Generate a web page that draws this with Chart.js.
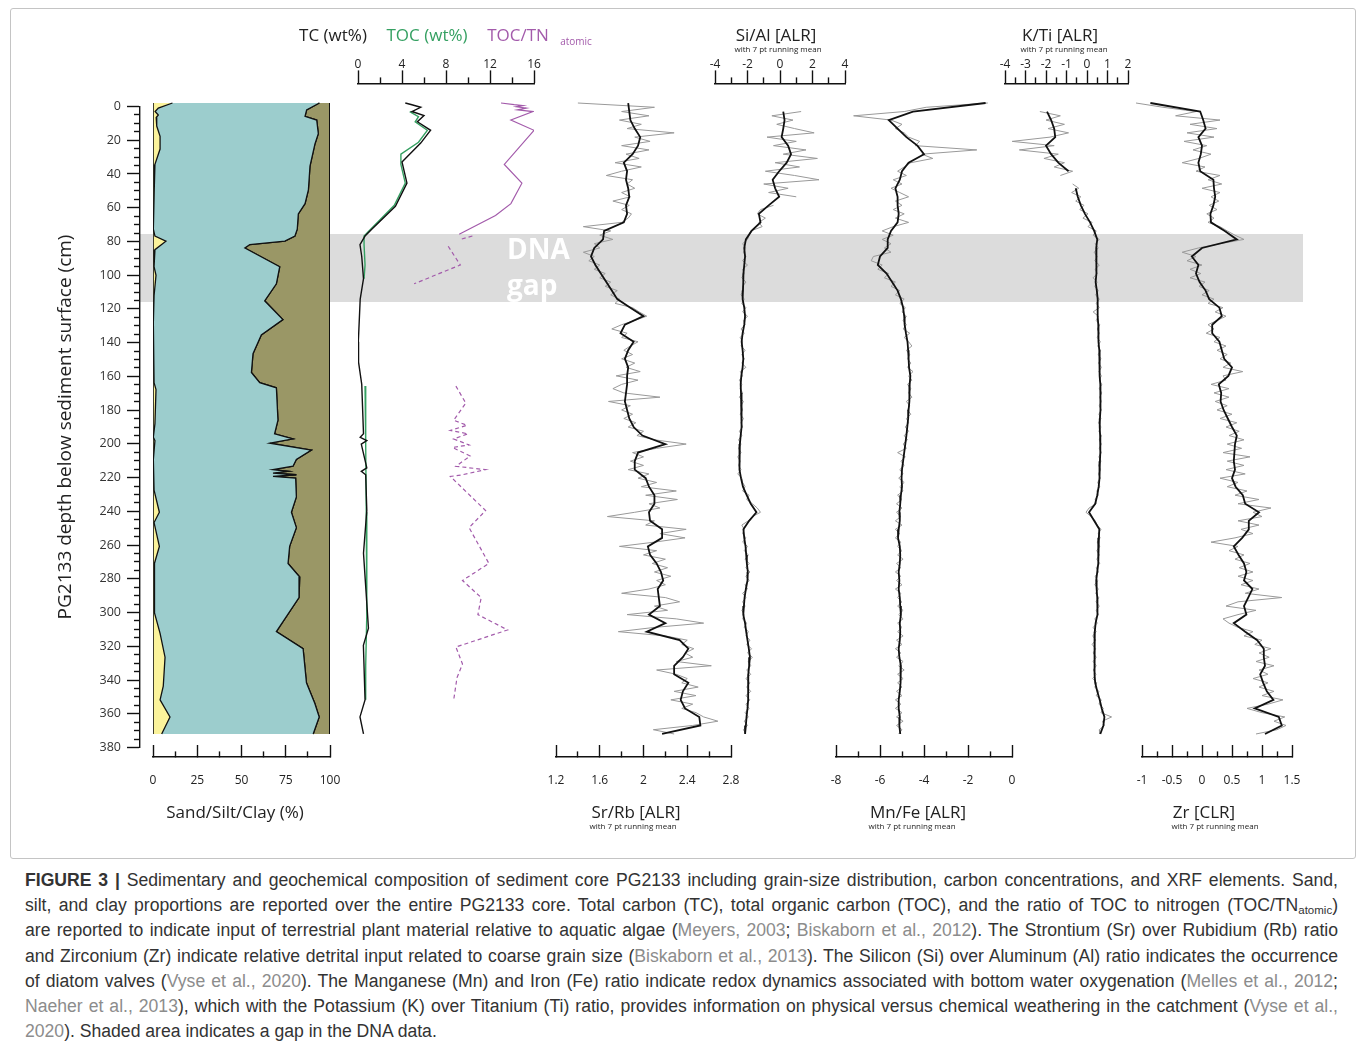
<!DOCTYPE html>
<html>
<head>
<meta charset="utf-8">
<script src="https://cdn.jsdelivr.net/npm/chart.js@4.4.1/dist/chart.umd.min.js"></script>
<style>
  body { margin: 0; background: #fff; width: 1358px; height: 1049px; position: relative; overflow: hidden; font-family: "Open Sans", sans-serif; color: #222; }
  canvas { position: absolute; }
  .frame { position: absolute; left: 10px; top: 8px; width: 1344px; height: 849px; border: 1px solid #c4c4c4; border-radius: 3px; }
  .lbl { position: absolute; transform: translate(-50%, -50%); white-space: nowrap; line-height: 1; font-size: 17px; }
  .sub { font-size: 8px; }
  .gap { position: absolute; left: 507px; top: 230px; color: #fff; font-weight: bold; font-size: 28px; line-height: 36px; }
  .caption { position: absolute; left: 25px; top: 868px; width: 1313px; font-family: "Liberation Sans", Arial, sans-serif; font-size: 17.6px; line-height: 25.2px; color: #333; }
  .caption div { text-align: justify; text-align-last: justify; height: 25.2px; }
  .caption div.last { text-align-last: left; }
  .caption span.ref { color: #8c8c8c; }
  .caption sub { font-size: 11.5px; line-height: 0; vertical-align: -3px; }
</style>
</head>
<body>
<div class="frame"></div>
<canvas id="band"></canvas>
<div class="gap">DNA<br>gap</div>
<canvas id="depthAxis"></canvas>
<canvas id="grain"></canvas>
<canvas id="carbon"></canvas>
<canvas id="srrb"></canvas>
<canvas id="sial"></canvas>
<canvas id="mnfe"></canvas>
<canvas id="kti"></canvas>
<canvas id="zr"></canvas>

<div class="lbl" style="left:333px;top:34px">TC (wt%)</div>
<div class="lbl" style="left:427px;top:34px;color:#35a062">TOC (wt%)</div>
<div class="lbl" style="left:518px;top:34px;color:#a35bab">TOC/TN</div>
<div class="lbl" style="left:576px;top:41px;font-size:10px;color:#a35bab">atomic</div>
<div class="lbl" style="left:776px;top:34px">Si/Al [ALR]</div>
<div class="lbl sub" style="left:778px;top:49px">with 7 pt running mean</div>
<div class="lbl" style="left:1060px;top:34px">K/Ti [ALR]</div>
<div class="lbl sub" style="left:1064px;top:49px">with 7 pt running mean</div>
<div class="lbl" style="left:235px;top:811px">Sand/Silt/Clay (%)</div>
<div class="lbl" style="left:636px;top:811px">Sr/Rb [ALR]</div>
<div class="lbl sub" style="left:633px;top:826px">with 7 pt running mean</div>
<div class="lbl" style="left:918px;top:811px">Mn/Fe [ALR]</div>
<div class="lbl sub" style="left:912px;top:826px">with 7 pt running mean</div>
<div class="lbl" style="left:1204px;top:811px">Zr [CLR]</div>
<div class="lbl sub" style="left:1215px;top:826px">with 7 pt running mean</div>

<div class="caption" id="caption">
  <div><b>FIGURE 3 |</b> Sedimentary and geochemical composition of sediment core PG2133 including grain-size distribution, carbon concentrations, and XRF elements. Sand,</div>
  <div>silt, and clay proportions are reported over the entire PG2133 core. Total carbon (TC), total organic carbon (TOC), and the ratio of TOC to nitrogen (TOC/TN<sub>atomic</sub>)</div>
  <div>are reported to indicate input of terrestrial plant material relative to aquatic algae (<span class="ref">Meyers, 2003</span>; <span class="ref">Biskaborn et al., 2012</span>). The Strontium (Sr) over Rubidium (Rb) ratio</div>
  <div>and Zirconium (Zr) indicate relative detrital input related to coarse grain size (<span class="ref">Biskaborn et al., 2013</span>). The Silicon (Si) over Aluminum (Al) ratio indicates the occurrence</div>
  <div>of diatom valves (<span class="ref">Vyse et al., 2020</span>). The Manganese (Mn) and Iron (Fe) ratio indicate redox dynamics associated with bottom water oxygenation (<span class="ref">Melles et al., 2012</span>;</div>
  <div><span class="ref">Naeher et al., 2013</span>), which with the Potassium (K) over Titanium (Ti) ratio, provides information on physical versus chemical weathering in the catchment (<span class="ref">Vyse et al.,</span></div>
  <div class="last"><span class="ref">2020</span>). Shaded area indicates a gap in the DNA data.</div>
</div>

<script>
/* Sediment core PG2133 - grain size, carbon and XRF ratios against depth */

// DNA gap (cm)
const gapTop = 77;
const gapBase = 116.5;
const coreTop = 0;
const coreBase = 370;

// Grain size: cumulative sand and sand+silt (%) with their depths (cm)
const sandDepth = [0, 3, 5, 7, 8.5, 13.5, 19.5, 27, 36, 43, 51, 74, 78, 81, 86, 96, 101, 113, 129, 164, 168, 188, 196, 198, 209,
  227, 240, 246, 260, 270, 295, 299, 311, 325, 342, 350, 360, 370];
const sandPct = [11, 3, 1.2, 3, 1.8, 2.1, 4, 4, 1.1, 0.8, 0.6, 0.2, 1.1, 7.3, 1.1, 0.6, 1.7, 0.6, 0.2, 0.6, 1.7, 1.1, 0.2, 1.1, 0.2,
  0.6, 3.6, 0.6, 3.6, 0.8, 0.6, 1.1, 4, 6.8, 5.8, 4, 9.6, 4.9];
const siltDepth = [0, 4, 7.8, 10, 18, 24, 37, 51, 59, 65, 74, 78, 81, 83, 85, 96, 106, 116, 127, 136, 147, 158, 164, 167, 186,
  194, 197, 199.5, 203.5, 209, 213, 215, 216, 217, 218, 219, 220, 231, 240, 249, 260, 270, 278, 290, 310, 320, 340, 352, 360, 370];
const siltTop = [94, 86.8, 85.9, 92.5, 93.4, 91.5, 88.7, 87.8, 85.9, 82.1, 81.5, 80.2, 74.5, 54.7, 51.9, 71.6, 69.7, 63.1, 73.4, 61.2,
  56.5, 55.6, 60.3, 69.7, 70.6, 68.7, 79.1, 66, 89.5, 81, 79.1, 67.8, 76.3, 67.8, 81, 67.8, 80.6, 81, 78.2, 81, 77.2, 76.3, 82.9,
  82.5, 69.7, 84.8, 86.7, 91.4, 93.9, 90.5];

// Carbon
const tcDepth = [0, 1, 2.5, 5, 7.4, 11, 16, 23.5, 34.6, 47, 60.6, 74, 78, 83, 90, 103, 115, 140, 152, 165, 194, 196, 198, 200, 214,
  216, 218, 239, 264, 308, 318, 350, 360, 370];
const tcVal = [4.3, 4.9, 5.7, 4.9, 6.0, 5.4, 6.6, 5.7, 4.0, 4.45, 3.4, 1.25, 0.64, 0.18, 0.34, 0.5, 0.2, 0.03, 0.05, 0.34, 0.5, 0.2,
  0.8, 0.3, 0.8, 0.3, 0.7, 0.8, 0.5, 0.95, 0.49, 0.64, 0.18, 0.5];
const tocDepth = [5, 8, 11, 16, 23, 30, 36, 47, 60, 74, 78, 83, 95, 103, 130, 166, 200, 240, 300, 330, 350];
const tocVal = [4.7, 5.5, 5.2, 6.3, 5.5, 3.9, 3.9, 4.3, 3.3, 1.15, 0.55, 0.55, 0.64, 0.55, null, 0.64, 0.7, 0.75, 0.8, 0.7, 0.7];
const tocTnDepth = [0, 1, 1.5, 2.2, 3, 4, 5, 10, 16, 36, 47, 59, 66, 77];
const tocTnVal = [13.0, 14.2, 15.0, 14.4, 15.3, 14.5, 15.9, 13.9, 16.0, 13.3, 14.9, 13.9, 12.5, 9.2];
const tocTnGapDepth = [78, 80, 82, 84, 95, 106, 130, 166, 176, 186, 189, 192, 194, 197, 200.5, 202, 207, 213, 215, 218, 219, 239,
  249, 270, 280, 290, 300, 309, 319, 329, 337, 350];
const tocTnGapVal = [10.4, 9.3, null, 8.2, 9.3, 5.1, null, 8.9, 9.8, 8.7, 9.9, 8.4, 10.0, 8.7, 10.1, 8.6, 10.2, 8.9, 11.6, 9.5, 8.4,
  11.6, 10.1, 11.9, 9.5, 11.2, 10.9, 13.6, 8.9, 9.5, 9.0, 8.7];

// XRF depths (cm): raw scan values and 7 pt running mean
const depthRaw = [0, 2.5, 5, 7.5, 10, 12.5, 15, 17.5, 20, 22.5, 25, 27.5, 30, 32.5, 35, 37.5, 40, 42.5, 45, 47.5,
  50, 52.5, 55, 57.5, 60, 62.5, 65, 67.5, 70, 72.5, 75, 77.5, 80, 82.5, 85, 87.5, 90, 92.5, 95, 97.5,
  100, 102.5, 105, 107.5, 110, 112.5, 115, 117.5, 120, 122.5, 125, 127.5, 130, 132.5, 135, 137.5, 140, 142.5, 145, 147.5,
  150, 152.5, 155, 157.5, 160, 162.5, 165, 167.5, 170, 172.5, 175, 177.5, 180, 182.5, 185, 187.5, 190, 192.5, 195, 197.5,
  200, 202.5, 205, 207.5, 210, 212.5, 215, 217.5, 220, 222.5, 225, 227.5, 230, 232.5, 235, 237.5, 240, 242.5, 245, 247.5,
  250, 252.5, 255, 257.5, 260, 262.5, 265, 267.5, 270, 272.5, 275, 277.5, 280, 282.5, 285, 287.5, 290, 292.5, 295, 297.5,
  300, 302.5, 305, 307.5, 310, 312.5, 315, 317.5, 320, 322.5, 325, 327.5, 330, 332.5, 335, 337.5, 340, 342.5, 345, 347.5,
  350, 352.5, 355, 357.5, 360, 362.5, 365, 367.5, 370];
const depthMean = [0, 5, 10, 15, 20, 25, 30, 35, 40, 45, 50, 55, 60, 65, 70, 75, 80, 85, 90, 95,
  100, 105, 110, 115, 120, 125, 130, 135, 140, 145, 150, 155, 160, 165, 170, 175, 180, 185, 190, 195,
  200, 205, 210, 215, 220, 225, 230, 235, 240, 245, 250, 255, 260, 265, 270, 275, 280, 285, 290, 295,
  300, 305, 310, 315, 320, 325, 330, 335, 340, 345, 350, 355, 360, 365, 370];

const srRbRaw = [1.40, 2.10, 1.80, 2.05, 1.78, 1.98, 1.85, 2.28, 1.92, 2.06,
  1.80, 2.05, 1.84, 1.96, 1.74, 1.98, 1.80, 1.66, 1.90, 1.85,
  1.92, 1.80, 1.88, 1.72, 1.87, 1.80, 1.89, 1.86, 1.80, 1.45,
  1.70, 1.60, 1.72, 1.55, 1.60, 1.45, 1.55, 1.50, 1.60, 1.55,
  1.65, 1.60, 1.70, 1.65, 1.76, 1.70, 1.78, 1.74, 1.90, 1.96,
  2.03, 1.92, 1.80, 1.71, 1.85, 1.80, 1.95, 1.88, 1.82, 1.90,
  1.80, 1.92, 1.84, 1.97, 1.75, 1.95, 1.80, 1.72, 1.82, 2.15,
  1.68, 1.88, 1.80, 1.90, 1.82, 1.93, 1.86, 2.00, 1.94, 2.10,
  2.39, 2.12, 1.90, 2.00, 1.88, 2.00, 1.86, 2.05, 1.95, 2.12,
  1.98, 2.30, 2.02, 2.31, 2.05, 2.15, 1.92, 1.67, 2.10, 2.02,
  2.39, 2.15, 2.38, 2.10, 1.78, 2.12, 2.00, 2.20, 2.08, 2.22,
  2.10, 2.25, 2.12, 2.20, 2.05, 1.80, 2.20, 2.33, 2.10, 2.22,
  1.85, 2.30, 2.55, 2.10, 1.77, 2.20, 2.40, 2.35, 2.46, 2.38,
  2.45, 2.30, 2.62, 2.12, 2.30, 2.40, 2.35, 2.50, 2.28, 2.48,
  2.25, 2.45, 2.35, 2.48, 2.55, 2.68, 2.45, 2.09, 2.28];
const srRbMean = [1.86, 1.87, 1.88, 1.92, 1.97, 1.95, 1.90, 1.82, 1.85, 1.84,
  1.86, 1.87, 1.84, 1.85, 1.82, 1.64, 1.63, 1.55, 1.52, 1.56,
  1.61, 1.66, 1.71, 1.76, 1.88, 2.00, 1.83, 1.79, 1.91, 1.86,
  1.83, 1.86, 1.85, 1.85, 1.84, 1.83, 1.85, 1.87, 1.91, 1.99,
  2.20, 1.95, 1.92, 1.92, 2.02, 2.05, 2.10, 2.10, 2.05, 2.06,
  2.17, 2.17, 2.04, 2.06, 2.12, 2.16, 2.18, 2.13, 2.14, 2.15,
  2.05, 2.20, 2.03, 2.33, 2.41, 2.36, 2.28, 2.28, 2.41, 2.36,
  2.34, 2.38, 2.51, 2.52, 2.17];

const siAlRaw = [null, null, 1.3, -0.5, 0.8, -0.2, 0.9, 2.1, -0.8, 1.0,
  -0.4, 1.6, 0.2, 2.3, -0.3, 1.2, -0.9, 0.9, 2.4, -1.0,
  0.5, -0.7, 1.0, null, -0.4, -1.2, -1.4, -0.9, -1.3, -1.1,
  -1.8, -1.9, -2.0, -2.3, -2.1, -2.25, -2.1, -2.3, -2.0, -2.3,
  -2.2, -2.35, -2.1, -2.3, -2.25, -2.4, -2.2, -2.35, -2.1, -2.3,
  -2.0, -2.25, -2.15, -2.4, -2.2, -2.45, -2.3, -2.4, -2.15, -2.35,
  -2.2, -2.35, -2.1, -2.45, -2.3, -2.5, -2.35, -2.45, -2.3, -2.5,
  -2.25, -2.4, -2.3, -2.45, -2.25, -2.4, -2.3, -2.5, -2.35, -2.55,
  -2.4, -2.55, -2.4, -2.6, -2.45, -2.55, -2.4, -2.6, -2.35, -2.3,
  -2.15, -2.3, -1.9, -2.05, -1.7, -1.4, -1.2, -1.7, -1.95, -2.35,
  -2.2, -2.3, -2.1, -2.3, -2.0, -2.2, -1.95, -2.15, -1.9, -2.1,
  -1.85, -2.1, -1.9, -2.15, -2.0, -2.3, -2.1, -2.3, -2.15, -2.35,
  -2.2, -2.3, -2.05, -2.2, -1.95, -2.1, -1.85, -2.05, -1.75, -2.0,
  -1.7, -1.95, -1.8, -2.05, -1.8, -2.1, -1.85, -2.05, -1.8, -2.1,
  -1.85, -2.1, -1.9, -2.15, -1.95, -2.2, -2.0, -2.25, -2.1];
const siAlMean = [null, 0.2, 0.28, 0.2, 0.1, 0.5, 0.68, 0.41, -0.05, -0.45,
  -0.3, -0.05, -0.7, -1.3, -1.2, -1.75, -2.1, -2.2, -2.15, -2.2,
  -2.25, -2.26, -2.28, -2.3, -2.2, -2.15, -2.2, -2.3, -2.36, -2.3,
  -2.26, -2.3, -2.38, -2.42, -2.4, -2.36, -2.36, -2.38, -2.36, -2.42,
  -2.47, -2.48, -2.5, -2.5, -2.4, -2.28, -2.05, -1.8, -1.45, -1.9,
  -2.25, -2.2, -2.12, -2.08, -2.04, -1.98, -2.0, -2.1, -2.18, -2.22,
  -2.26, -2.15, -2.08, -2.0, -1.92, -1.85, -1.9, -1.95, -1.96, -1.96,
  -1.96, -2.0, -2.06, -2.1, -2.15];

const mnFeRaw = [-1.1, -3.9, -4.9, -7.2, -5.5, -5.0, -5.3, -4.9, -4.7, -4.2,
  -4.4, -1.6, -4.1, -3.6, -4.6, -4.9, -5.2, -4.8, -5.4, -5.0,
  -5.5, -5.1, -4.7, -5.3, -5.0, -5.4, -4.9, -5.3, -4.7, -5.4,
  -5.9, -5.4, -5.9, -5.5, -5.8, -5.5, -6.3, -6.4, -5.9, -6.1,
  -5.6, -5.8, -5.3, -5.5, -5.1, -5.3, -4.9, -5.1, -4.85, -5.0,
  -4.8, -4.95, -4.8, -4.95, -4.65, -4.9, -4.7, -4.55, -4.8, -4.65,
  -4.75, -4.6, -4.75, -4.5, -4.7, -4.55, -4.75, -4.6, -4.7, -4.55,
  -4.8, -4.65, -4.75, -4.6, -4.8, -4.7, -4.85, -4.7, -4.9, -4.75,
  -4.95, -4.8, -5.2, -4.85, -5.05, -4.9, -5.1, -4.95, -5.15, -4.9,
  -5.1, -4.95, -5.2, -5.0, -5.25, -5.0, -5.25, -5.05, -5.3, -5.0,
  -5.3, -5.1, -5.3, -5.05, -5.2, -5.0, -5.2, -4.95, -5.25, -5.05,
  -5.3, -5.05, -5.25, -5.0, -5.3, -5.05, -5.2, -5.0, -5.2, -4.95,
  -5.15, -4.95, -5.2, -5.0, -5.2, -4.95, -5.25, -5.0, -5.3, -5.05,
  -5.25, -4.95, -5.15, -4.9, -5.2, -4.95, -5.2, -5.0, -5.25, -5.0,
  -5.3, -5.05, -5.3, -5.0, -5.25, -4.95, -5.25, -5.0, -5.15];
const mnFeMean = [-1.2, -4.5, -5.6, -5.2, -4.8, -4.3, -4.0, -4.7, -5.0, -5.1,
  -5.3, -5.2, -5.2, -5.15, -5.2, -5.5, -5.65, -5.65, -6.0, -6.1,
  -5.7, -5.45, -5.2, -5.05, -4.95, -4.9, -4.88, -4.82, -4.75, -4.72,
  -4.7, -4.68, -4.62, -4.65, -4.65, -4.68, -4.7, -4.72, -4.76, -4.8,
  -4.85, -4.9, -4.95, -5.0, -5.02, -5.0, -5.05, -5.08, -5.12, -5.1,
  -5.15, -5.18, -5.1, -5.08, -5.1, -5.15, -5.12, -5.15, -5.1, -5.08,
  -5.05, -5.1, -5.08, -5.1, -5.15, -5.12, -5.05, -5.05, -5.08, -5.1,
  -5.15, -5.15, -5.1, -5.12, -5.08];

const kTiRaw = [null, null, -2.3, -1.3, -2.0, -1.1, -1.9, -0.9, -1.8, -3.65,
  -1.6, -3.3, -1.4, -2.1, -1.1, -1.6, -0.7, -1.3, null, -0.7,
  -0.4, -0.75, -0.3, -0.55, -0.15, -0.35, 0.05, -0.2, 0.25, 0.05,
  0.45, 0.3, 0.6, 0.4, 0.55, 0.35, 0.5, 0.38, 0.6, 0.4,
  0.5, 0.3, 0.5, 0.38, 0.55, 0.42, 0.6, 0.45, 0.6, 0.3,
  0.55, 0.45, 0.62, 0.5, 0.6, 0.5, 0.65, 0.52, 0.66, 0.55,
  0.68, 0.56, 0.7, 0.58, 0.7, 0.6, 0.72, 0.6, 0.72, 0.62,
  0.7, 0.6, 0.7, 0.58, 0.68, 0.56, 0.68, 0.58, 0.7, 0.6,
  0.7, 0.6, 0.7, 0.58, 0.68, 0.57, 0.66, 0.56, 0.65, 0.52,
  0.62, 0.48, 0.55, 0.4, 0.45, 0.1, -0.05, 0.2, 0.4, 0.5,
  0.68, 0.55, 0.64, 0.5, 0.62, 0.48, 0.6, 0.48, 0.62, 0.45,
  0.56, 0.4, 0.52, 0.38, 0.55, 0.42, 0.57, 0.44, 0.6, 0.45,
  0.56, 0.38, 0.5, 0.3, 0.45, 0.28, 0.42, 0.25, 0.42, 0.3,
  0.45, 0.3, 0.45, 0.3, 0.44, 0.28, 0.48, 0.38, 0.58, 0.45,
  0.7, 0.58, 0.8, 0.68, 1.2, 0.75, 0.85, 0.6, 0.62];
const kTiMean = [null, -1.95, -1.75, -1.6, -1.55, -2.0, -1.75, -1.4, -0.9, null,
  -0.55, -0.45, -0.3, -0.1, 0.15, 0.35, 0.5, 0.45, 0.45, 0.48,
  0.45, 0.42, 0.48, 0.52, 0.52, 0.52, 0.55, 0.55, 0.57, 0.6,
  0.6, 0.62, 0.63, 0.65, 0.66, 0.66, 0.65, 0.63, 0.62, 0.64,
  0.65, 0.65, 0.63, 0.62, 0.6, 0.57, 0.5, 0.4, 0.1, 0.35,
  0.6, 0.58, 0.55, 0.55, 0.55, 0.5, 0.45, 0.47, 0.5, 0.52,
  0.5, 0.42, 0.38, 0.35, 0.36, 0.38, 0.38, 0.37, 0.4, 0.5,
  0.62, 0.72, 0.85, 0.8, 0.65];

const zrRaw = [-1.1, -0.65, -0.1, -0.44, 0.3, -0.2, 0.25, -0.25, 0.2, -0.3,
  0.08, -0.15, 0.15, -0.05, -0.33, 0.05, -0.1, 0.3, 0.1, 0.33,
  0.0, 0.3, 0.15, 0.28, 0.12, 0.25, 0.08, 0.2, 0.1, 0.3,
  0.42, 0.55, 0.7, 0.3, -0.06, -0.33, -0.1, -0.25, 0.0, -0.2,
  -0.02, -0.2, 0.05, -0.05, 0.12, 0.0, 0.2, 0.1, 0.35, 0.22,
  0.4, 0.25, 0.1, 0.2, 0.07, 0.3, 0.2, 0.4, 0.25, 0.42,
  0.3, 0.48, 0.35, 0.68, 0.35, 0.4, 0.15, 0.45, 0.2, 0.45,
  0.22, 0.42, 0.25, 0.5, 0.3, 0.58, 0.4, 0.62, 0.45, 0.7,
  0.42, 0.66, 0.35, 0.8, 0.42, 0.7, 0.4, 0.72, 0.3, 0.6,
  0.42, 0.75, 0.55, 0.95, 0.6, 1.15, 0.85, 1.0, 0.6, 0.95,
  0.65, 0.85, 0.55, 0.15, 0.6, 0.45, 0.7, 0.55, 0.8, 0.62,
  0.85, 0.6, 0.85, 0.65, 0.95, 0.72, 1.33, 0.6, 0.4, 0.9,
  0.6, 0.35, 0.45, 0.6, 0.85, 0.7, 1.0, 0.88, 1.15, 0.95,
  1.12, 0.9, 1.2, 0.95, 1.1, 0.85, 1.1, 0.95, 1.2, 1.0,
  1.35, 1.1, 0.75, 1.0, 1.38, 1.2, 1.4, 1.25, 0.9];
const zrMean = [-0.86, -0.03, 0.02, 0.06, -0.06, 0.0, -0.02, -0.06, -0.03, 0.19,
  0.2, 0.22, 0.19, 0.14, 0.15, 0.38, 0.58, 0.0, -0.17, -0.06,
  -0.1, -0.04, 0.06, 0.12, 0.29, 0.33, 0.17, 0.17, 0.29, 0.33,
  0.37, 0.5, 0.44, 0.28, 0.32, 0.31, 0.36, 0.43, 0.5, 0.58,
  0.55, 0.54, 0.53, 0.55, 0.5, 0.56, 0.68, 0.72, 0.95, 0.78,
  0.78, 0.67, 0.53, 0.61, 0.7, 0.74, 0.7, 0.84, 0.77, 0.7,
  0.74, 0.53, 0.72, 0.92, 1.03, 1.03, 1.05, 0.97, 1.02, 1.08,
  1.19, 0.88, 1.28, 1.33, 1.05];

// ---------------------------------------------------------------------------
Chart.defaults.font.family = '"Open Sans", sans-serif';
Chart.defaults.color = '#222';

const ink = '#111';
const rawGrey = '#999999';
const tocGreen = '#35a062';
const ratioPurple = '#a35bab';
const SIDE = 45; // canvas margin so that tick labels never squeeze the plot area

function place(id, left, top, w, h) {
  const c = document.getElementById(id);
  c.width = w;
  c.height = h;
  c.style.left = left + 'px';
  c.style.top = top + 'px';
  return c;
}

const pts = (depths, vals) => depths.map((d, i) => ({x: vals[i], y: d}));
const isMult = (v, base, step) => Math.abs((v - base) / step - Math.round((v - base) / step)) < 1e-6;
const fmt = v => String(Math.round(v * 100) / 100);

// x axis with long labelled ticks and short unlabelled ones
function valueAxis(min, max, step, base, major, pos) {
  const top = pos === 'top';
  const minor = ctx => ctx.tick ? !isMult(ctx.tick.value, base, major) : false;
  return {
    type: 'linear', position: pos, min: min, max: max,
    ticks: {
      stepSize: step, autoSkip: false, maxRotation: 0, padding: top ? -1 : 28,
      font: {size: 12}, color: '#222',
      callback: v => isMult(v, base, major) ? fmt(v) : ''
    },
    grid: {
      drawOnChartArea: false, tickLength: top ? 13 : -12, tickColor: ink, tickWidth: 1.4,
      tickBorderDash: ctx => minor(ctx) ? (top ? [6, 7] : [6, 40]) : [],
      tickBorderDashOffset: ctx => (minor(ctx) && top) ? 6 : 0
    },
    border: {color: ink, width: 1.4},
    afterFit: s => { s.height = top ? 30 : 40; }
  };
}

function panel(id, left, right, xScale, datasets) {
  const top = xScale.position === 'top';
  const c = place(id, left - SIDE, 40, right - left + 2 * SIDE, 790);
  return new Chart(c, {
    type: 'line',
    data: {datasets: datasets},
    options: {
      responsive: false, animation: false, indexAxis: 'y',
      layout: {autoPadding: false, padding: {left: SIDE, right: SIDE, top: top ? 13.4 : 43.4, bottom: top ? 73 : 33}},
      plugins: {legend: {display: false}, tooltip: {enabled: false}},
      elements: {point: {radius: 0}, line: {tension: 0}},
      scales: {
        x: xScale,
        y: {type: 'linear', reverse: true, min: -11.5, max: 383.5, display: false}
      }
    }
  });
}

function xrf(mean, raw) {
  return [
    {data: pts(depthMean, mean), borderColor: ink, borderWidth: 1.8, clip: false},
    {data: pts(depthRaw, raw), borderColor: rawGrey, borderWidth: 1, clip: false}
  ];
}

// Shaded DNA gap behind all panels
new Chart(place('band', 140, 103, 1163, 648), {
  type: 'bar',
  data: {labels: ['DNA gap'], datasets: [{data: [[gapTop, gapBase]], backgroundColor: '#dcdcdc',
    barPercentage: 1, categoryPercentage: 1, borderWidth: 0}]},
  options: {
    responsive: false, animation: false,
    layout: {autoPadding: false, padding: 0},
    plugins: {legend: {display: false}, tooltip: {enabled: false}},
    scales: {x: {display: false}, y: {display: false, reverse: true, min: 0, max: 380}}
  }
});

// Depth axis
new Chart(place('depthAxis', 0, 93, 160, 668), {
  type: 'scatter',
  data: {datasets: []},
  options: {
    responsive: false, animation: false,
    layout: {autoPadding: false, padding: {left: 54, right: 0, top: 10, bottom: 10}},
    plugins: {legend: {display: false}, tooltip: {enabled: false}},
    scales: {
      x: {display: false},
      y: {
        type: 'linear', position: 'left', reverse: true, min: 0, max: 380,
        ticks: {stepSize: 5, autoSkip: false, padding: 6, font: {size: 12.5}, color: '#333',
          callback: v => v % 20 === 0 ? v : ''},
        grid: {
          drawOnChartArea: false, tickLength: 13, tickColor: ink, tickWidth: 1.4,
          tickBorderDash: ctx => (ctx.tick && ctx.tick.value % 20) ? [6, 7] : [],
          tickBorderDashOffset: ctx => (ctx.tick && ctx.tick.value % 20) ? 6 : 0
        },
        border: {color: ink, width: 1.4},
        title: {display: true, text: 'PG2133 depth below sediment surface (cm)', font: {size: 19}, color: '#222', padding: 0},
        afterFit: s => { s.width = 86; }
      }
    }
  }
});

// Sand / silt / clay
panel('grain', 153, 330, valueAxis(0, 100, 12.5, 0, 25, 'bottom'), [
  {data: pts([coreTop, coreBase], [0, 0]), borderColor: ink, borderWidth: 1.6},
  {data: pts([coreTop, coreBase], [100, 100]), borderColor: ink, borderWidth: 2},
  {data: pts(sandDepth, sandPct), borderColor: ink, borderWidth: 1.3, backgroundColor: '#fbf39b', fill: {value: 0}},
  {data: pts(siltDepth, siltTop), borderColor: ink, borderWidth: 1.3, backgroundColor: '#9ccdcd', fill: {value: 0}},
  {data: pts(siltDepth, siltTop), borderColor: ink, borderWidth: 1.3, backgroundColor: '#9a9766', fill: {value: 100}}
]);

// TC, TOC and TOC/TN
panel('carbon', 357.5, 534, valueAxis(0, 16, 2, 0, 4, 'top'), [
  {data: pts(tcDepth, tcVal), borderColor: ink, borderWidth: 1.4},
  {data: pts(tocDepth, tocVal), borderColor: tocGreen, borderWidth: 1.4},
  {data: pts(tocTnDepth, tocTnVal), borderColor: ratioPurple, borderWidth: 1.2},
  {data: pts(tocTnGapDepth, tocTnGapVal), borderColor: ratioPurple, borderWidth: 1.2, borderDash: [4, 3]}
]);

panel('srrb', 555.5, 731, valueAxis(1.2, 2.8, 0.2, 1.2, 0.4, 'bottom'), xrf(srRbMean, srRbRaw));
panel('sial', 715, 845, valueAxis(-4, 4, 1, -4, 2, 'top'), xrf(siAlMean, siAlRaw));
panel('mnfe', 835.5, 1011.5, valueAxis(-8, 0, 1, -8, 2, 'bottom'), xrf(mnFeMean, mnFeRaw));
panel('kti', 1005, 1128, valueAxis(-4, 2, 0.5, -4, 1, 'top'), xrf(kTiMean, kTiRaw));
panel('zr', 1141.7, 1291.7, valueAxis(-1, 1.5, 0.25, -1, 0.5, 'bottom'), xrf(zrMean, zrRaw));

// caption: largest size at which every justified line stays on one line
(function fitCaption() {
  const cap = document.getElementById('caption');
  const lines = cap.querySelectorAll('div');
  let size = 17.6;
  const fits = () => Array.from(lines).every(l => l.scrollHeight <= 27);
  lines.forEach(l => { l.style.height = 'auto'; });
  while (!fits() && size > 14) {
    size -= 0.1;
    cap.style.fontSize = size.toFixed(1) + 'px';
  }
  lines.forEach(l => { l.style.height = '25.2px'; });
})();
</script>
</body>
</html>
